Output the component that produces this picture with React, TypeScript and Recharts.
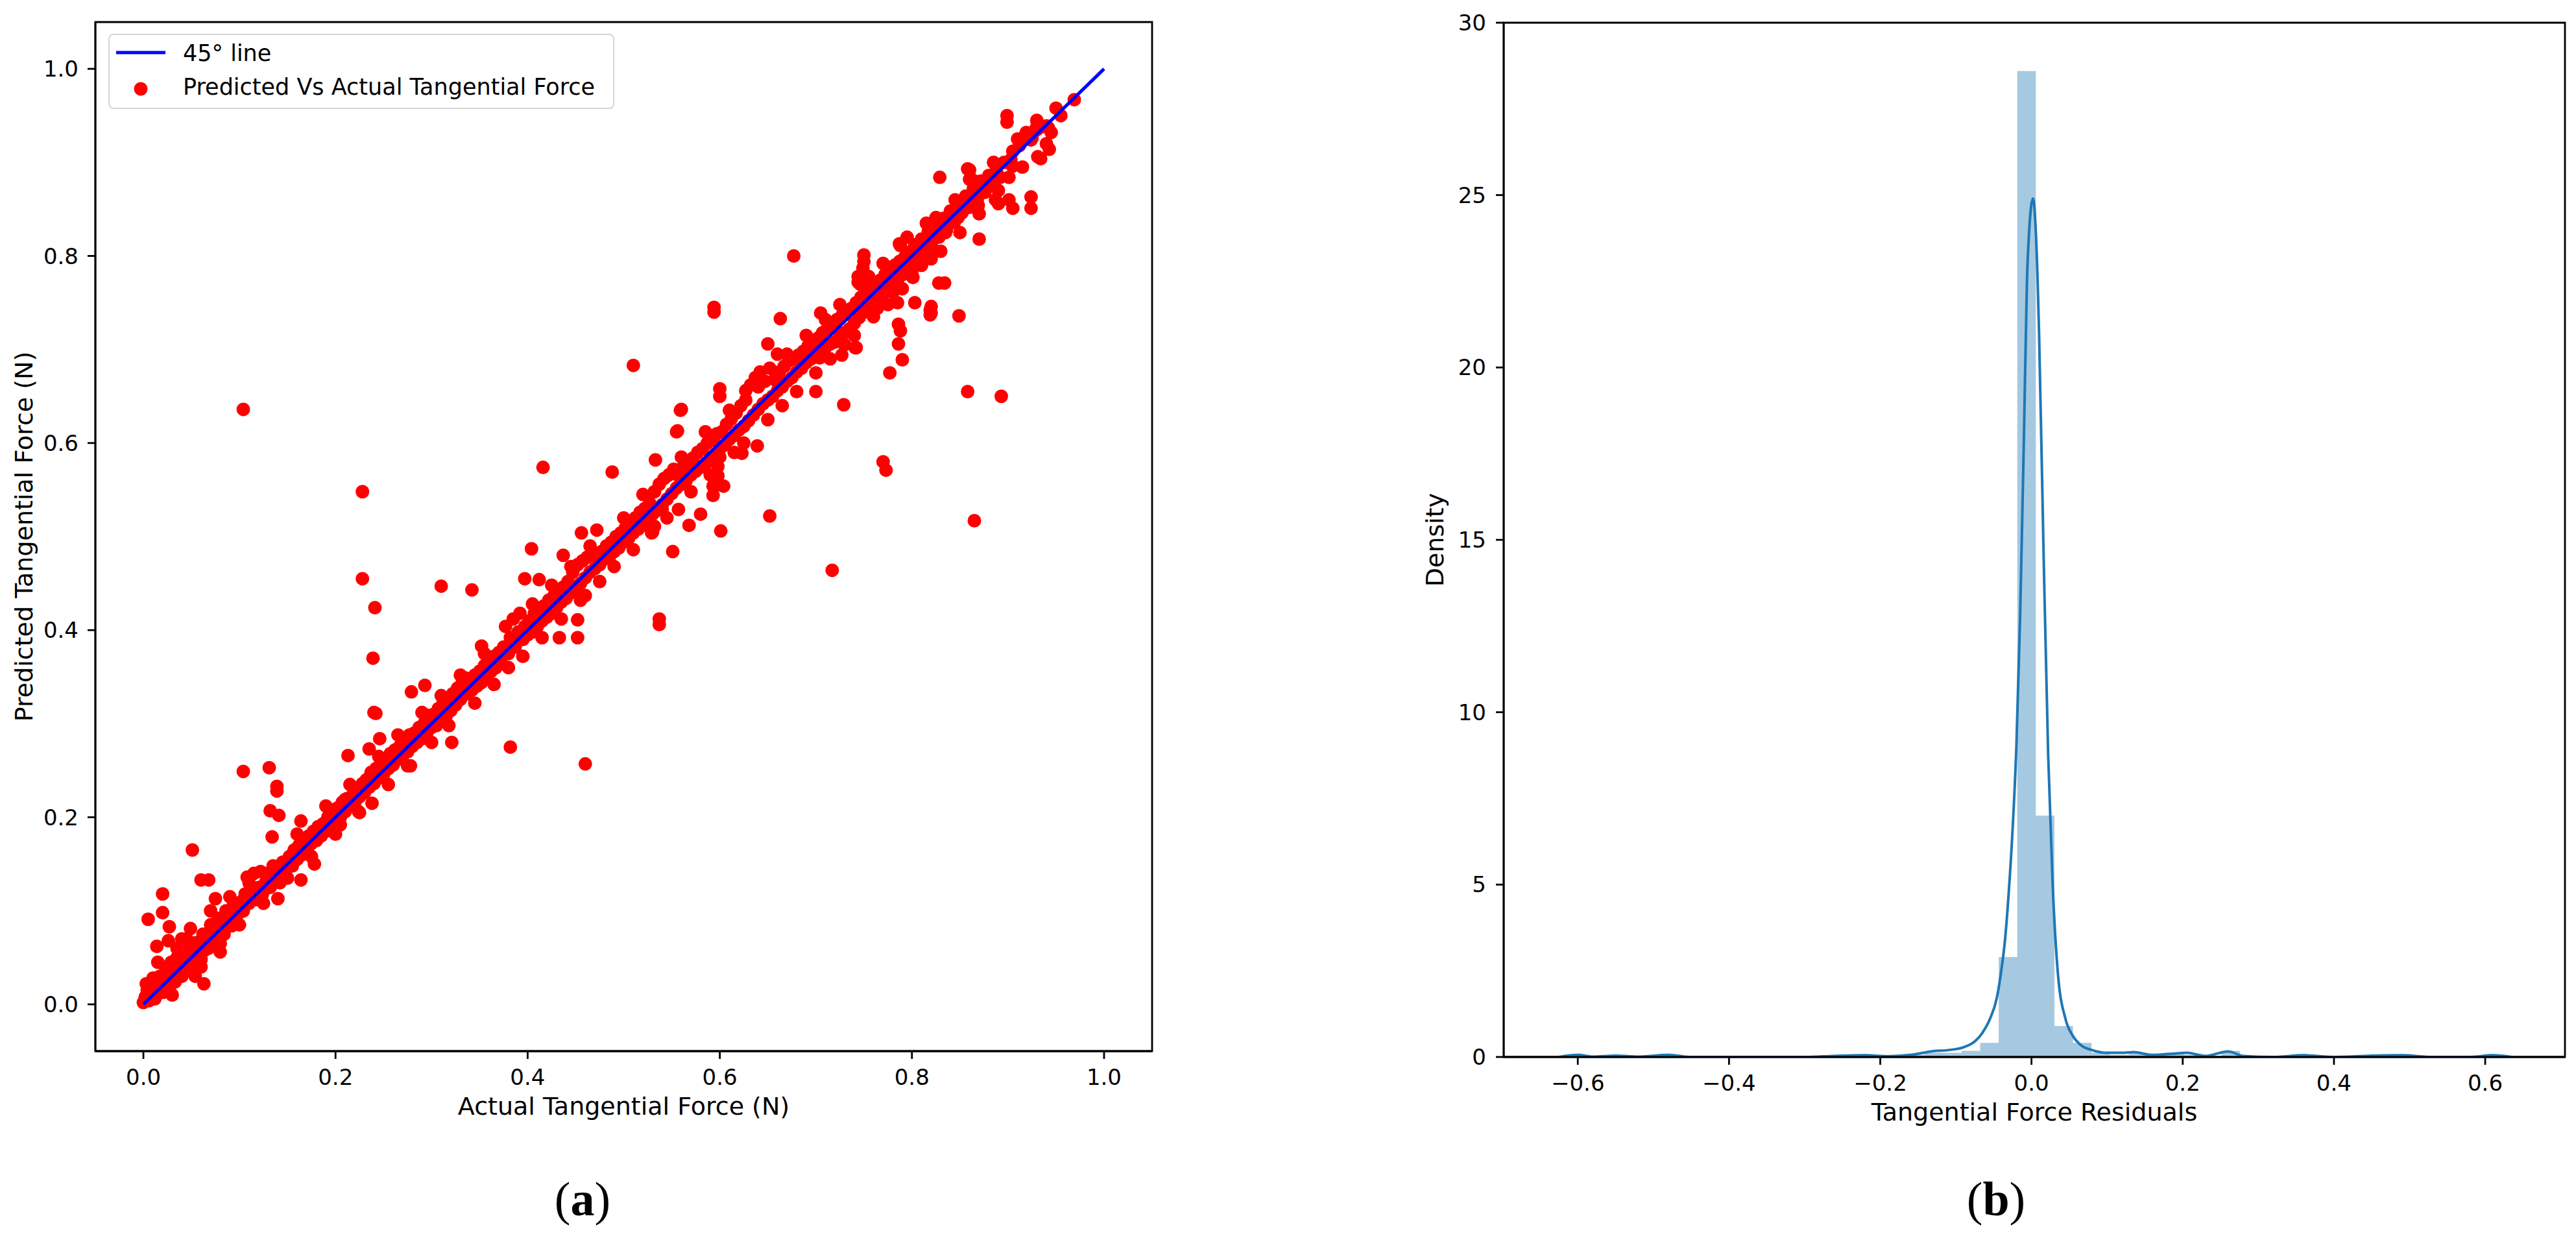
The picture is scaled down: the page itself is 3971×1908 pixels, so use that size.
import React from 'react';
import {
  ScatterChart,
  Scatter,
  ComposedChart,
  Area,
  Line,
  XAxis,
  YAxis,
  Label,
  ReferenceArea,
} from 'recharts';

const FONT = '"DejaVu Sans", Verdana, sans-serif';
const CAPTION_FONT = '"Liberation Serif", "DejaVu Serif", serif';

// ---------- Panel (a) data ----------
const scatterTicks = [0, 0.2, 0.4, 0.6, 0.8, 1.0];
const diagonalLine = [
  { x: 0, y: 0 },
  { x: 1, y: 1 },
];

// [actual, predicted] points lying in the dense band along the 45° line
const bandPoints: [number, number][] = [
  [0, 0.002], [0.002, 0.008], [0.004, 0.015], [0.003, 0.022], [0.006, 0.004], [0.008, 0.012], [0.01, 0.018], [0.01, 0.028],
  [0.012, 0.006], [0.014, 0.02], [0.015, 0.011], [0.017, 0.03], [0.018, 0.016], [0.02, 0.024], [0.021, 0.013], [0.023, 0.04],
  [0.024, 0.02], [0.026, 0.03], [0.027, 0.018], [0.029, 0.045], [0.03, 0.026], [0.032, 0.036], [0.033, 0.024], [0.035, 0.05],
  [0.036, 0.032], [0.038, 0.04], [0.04, 0.03], [0.041, 0.055], [0.043, 0.038], [0.045, 0.046], [0.046, 0.036], [0.048, 0.06],
  [0.05, 0.045], [0.052, 0.052], [0.053, 0.04], [0.055, 0.066], [0.057, 0.052], [0.059, 0.06], [0.06, 0.048], [0.062, 0.075],
  [0.064, 0.058], [0.066, 0.068], [0.068, 0.06], [0.07, 0.085], [0.072, 0.068], [0.074, 0.076], [0.076, 0.066], [0.078, 0.092],
  [0.08, 0.078], [0.082, 0.086], [0.084, 0.075], [0.086, 0.1], [0.088, 0.088], [0.09, 0.095], [0.092, 0.084], [0.094, 0.108],
  [0.096, 0.096], [0.098, 0.104],
  [0.1, 0.098], [0.102, 0.11], [0.104, 0.1], [0.106, 0.118], [0.108, 0.136], [0.11, 0.108], [0.112, 0.12], [0.115, 0.14],
  [0.117, 0.112], [0.12, 0.125], [0.122, 0.142], [0.124, 0.118], [0.127, 0.13], [0.13, 0.14], [0.132, 0.125], [0.135, 0.148],
  [0.137, 0.133], [0.14, 0.14], [0.142, 0.13], [0.145, 0.152], [0.147, 0.14], [0.15, 0.148], [0.152, 0.158], [0.155, 0.148],
  [0.157, 0.165], [0.16, 0.155], [0.162, 0.17], [0.165, 0.16], [0.167, 0.175], [0.17, 0.165], [0.172, 0.18], [0.175, 0.172],
  [0.177, 0.185], [0.18, 0.175], [0.182, 0.19], [0.185, 0.18], [0.187, 0.193], [0.19, 0.185], [0.192, 0.2], [0.195, 0.19],
  [0.197, 0.205], [0.2, 0.196],
  [0.202, 0.21], [0.205, 0.2], [0.207, 0.216], [0.21, 0.206], [0.212, 0.22], [0.215, 0.212], [0.218, 0.224], [0.22, 0.215],
  [0.222, 0.23], [0.225, 0.222], [0.228, 0.236], [0.23, 0.226], [0.232, 0.24], [0.235, 0.232], [0.237, 0.248], [0.24, 0.236],
  [0.242, 0.252], [0.245, 0.242], [0.247, 0.256], [0.25, 0.246], [0.252, 0.262], [0.255, 0.252], [0.257, 0.268], [0.26, 0.256],
  [0.262, 0.272], [0.265, 0.262], [0.267, 0.276], [0.27, 0.266], [0.272, 0.282], [0.275, 0.27], [0.277, 0.288], [0.28, 0.276],
  [0.282, 0.29], [0.285, 0.28], [0.287, 0.296], [0.29, 0.284], [0.292, 0.3], [0.295, 0.29], [0.297, 0.306], [0.3, 0.296],
  [0.302, 0.31], [0.305, 0.298], [0.307, 0.316], [0.31, 0.304], [0.312, 0.322], [0.315, 0.308], [0.317, 0.326], [0.32, 0.314],
  [0.322, 0.332], [0.325, 0.32], [0.327, 0.338], [0.33, 0.326], [0.332, 0.344], [0.335, 0.349], [0.337, 0.332], [0.34, 0.346],
  [0.342, 0.336], [0.345, 0.352], [0.347, 0.34], [0.35, 0.356], [0.352, 0.344], [0.355, 0.362], [0.357, 0.352], [0.36, 0.368],
  [0.362, 0.356], [0.365, 0.372], [0.367, 0.36], [0.37, 0.376], [0.372, 0.366], [0.375, 0.382], [0.377, 0.404], [0.38, 0.375],
  [0.382, 0.392], [0.385, 0.412], [0.387, 0.382], [0.39, 0.398], [0.392, 0.418], [0.395, 0.39], [0.397, 0.404], [0.4, 0.395],
  [0.402, 0.41], [0.405, 0.398], [0.407, 0.418], [0.41, 0.404], [0.412, 0.422], [0.415, 0.41], [0.417, 0.426], [0.42, 0.414],
  [0.422, 0.432], [0.425, 0.418], [0.427, 0.436], [0.43, 0.424], [0.432, 0.44], [0.435, 0.43], [0.437, 0.446], [0.44, 0.434],
  [0.442, 0.452], [0.445, 0.44], [0.447, 0.462], [0.45, 0.444], [0.452, 0.47], [0.455, 0.45], [0.457, 0.474], [0.46, 0.456],
  [0.462, 0.478], [0.465, 0.462], [0.467, 0.48], [0.47, 0.466], [0.472, 0.482], [0.475, 0.47], [0.477, 0.484], [0.48, 0.476],
  [0.482, 0.49], [0.485, 0.478], [0.487, 0.494], [0.49, 0.484], [0.492, 0.5], [0.495, 0.488], [0.497, 0.504], [0.5, 0.494],
  [0.502, 0.51], [0.505, 0.498], [0.507, 0.516], [0.51, 0.504], [0.512, 0.52], [0.515, 0.508], [0.517, 0.526], [0.52, 0.512],
  [0.522, 0.53], [0.525, 0.518], [0.527, 0.536], [0.53, 0.524], [0.532, 0.548], [0.535, 0.528], [0.537, 0.556], [0.54, 0.534],
  [0.542, 0.562], [0.545, 0.54], [0.547, 0.566], [0.55, 0.546], [0.552, 0.572], [0.555, 0.552], [0.557, 0.565], [0.56, 0.556],
  [0.562, 0.575], [0.565, 0.56], [0.567, 0.58], [0.57, 0.566], [0.572, 0.584], [0.575, 0.57], [0.577, 0.59], [0.58, 0.574],
  [0.582, 0.594], [0.585, 0.578], [0.587, 0.6], [0.59, 0.584], [0.592, 0.604], [0.595, 0.588], [0.597, 0.61], [0.6, 0.594],
  [0.602, 0.612], [0.605, 0.598], [0.607, 0.62], [0.61, 0.604], [0.612, 0.626], [0.615, 0.608], [0.617, 0.632], [0.62, 0.614],
  [0.622, 0.64], [0.625, 0.618], [0.627, 0.646], [0.63, 0.624], [0.632, 0.662], [0.635, 0.63], [0.637, 0.67], [0.64, 0.636],
  [0.642, 0.676], [0.645, 0.642], [0.647, 0.666], [0.65, 0.646], [0.652, 0.68], [0.655, 0.65], [0.657, 0.668], [0.66, 0.656],
  [0.662, 0.676], [0.665, 0.66], [0.667, 0.682], [0.67, 0.666], [0.672, 0.688], [0.675, 0.67], [0.677, 0.69], [0.68, 0.676],
  [0.682, 0.694], [0.685, 0.68], [0.687, 0.698], [0.69, 0.686], [0.692, 0.704], [0.695, 0.69], [0.697, 0.706], [0.7, 0.696],
  [0.702, 0.712], [0.705, 0.698], [0.707, 0.718], [0.71, 0.702], [0.712, 0.722], [0.715, 0.706], [0.717, 0.728], [0.72, 0.708],
  [0.722, 0.732], [0.725, 0.714], [0.727, 0.736], [0.73, 0.718], [0.732, 0.74], [0.735, 0.722], [0.737, 0.744], [0.74, 0.728],
  [0.742, 0.75], [0.745, 0.734], [0.747, 0.756], [0.75, 0.74], [0.752, 0.76], [0.755, 0.744], [0.757, 0.766], [0.76, 0.75],
  [0.762, 0.77], [0.765, 0.754], [0.767, 0.774], [0.77, 0.76], [0.772, 0.78], [0.775, 0.764], [0.777, 0.784], [0.78, 0.77],
  [0.782, 0.79], [0.785, 0.774], [0.787, 0.794], [0.79, 0.78], [0.792, 0.798], [0.795, 0.786], [0.797, 0.804], [0.8, 0.79],
  [0.803, 0.812], [0.806, 0.798], [0.81, 0.818], [0.813, 0.806], [0.817, 0.826], [0.82, 0.812], [0.824, 0.832], [0.828, 0.82],
  [0.832, 0.84], [0.836, 0.828], [0.84, 0.848], [0.844, 0.836], [0.848, 0.856], [0.852, 0.846], [0.856, 0.864], [0.86, 0.852],
  [0.864, 0.872], [0.868, 0.86], [0.872, 0.88], [0.876, 0.868], [0.88, 0.886], [0.884, 0.876], [0.888, 0.892], [0.892, 0.884],
  [0.896, 0.9], [0.905, 0.912], [0.912, 0.918], [0.925, 0.926], [0.935, 0.938],
];

// [actual, predicted] points along the ragged edges of the band
const bandEdgePoints: [number, number][] = [
  [0.03, 0.01], [0.045, 0.07], [0.06, 0.04], [0.07, 0.1], [0.08, 0.065], [0.09, 0.115], [0.1, 0.085],
  [0.11, 0.13], [0.125, 0.108], [0.15, 0.135], [0.16, 0.182], [0.175, 0.158], [0.19, 0.212], [0.2, 0.182],
  [0.215, 0.235], [0.225, 0.205], [0.245, 0.265], [0.255, 0.235], [0.265, 0.288], [0.275, 0.255], [0.29, 0.312],
  [0.3, 0.28], [0.31, 0.33], [0.318, 0.298], [0.33, 0.352], [0.345, 0.322], [0.355, 0.375], [0.365, 0.342],
  [0.38, 0.36], [0.395, 0.372], [0.405, 0.428], [0.415, 0.392], [0.425, 0.448], [0.435, 0.412], [0.445, 0.468],
  [0.455, 0.432], [0.465, 0.49], [0.475, 0.452], [0.49, 0.468], [0.5, 0.52], [0.51, 0.486], [0.52, 0.545],
  [0.53, 0.505], [0.545, 0.52], [0.56, 0.585], [0.57, 0.548], [0.585, 0.612], [0.59, 0.566], [0.61, 0.635],
  [0.615, 0.59], [0.625, 0.6], [0.64, 0.66], [0.65, 0.625], [0.665, 0.64], [0.67, 0.695], [0.68, 0.655],
  [0.69, 0.715], [0.7, 0.675], [0.71, 0.732], [0.715, 0.69], [0.725, 0.748], [0.73, 0.705], [0.74, 0.715],
  [0.755, 0.778], [0.76, 0.735], [0.77, 0.792], [0.775, 0.748], [0.79, 0.765], [0.795, 0.82], [0.81, 0.79],
  [0.815, 0.835], [0.83, 0.805], [0.845, 0.86], [0.85, 0.825], [0.865, 0.88], [0.87, 0.845], [0.885, 0.9],
  [0.89, 0.87], [0.91, 0.925], [0.915, 0.895], [0.93, 0.945], [0.94, 0.92], [0.955, 0.95],
];

// [actual, predicted] points scattered away from the band
const outlierPoints: [number, number][] = [
  [0.969, 0.967], [0.95, 0.958], [0.899, 0.95], [0.899, 0.943], [0.919, 0.932], [0.929, 0.936], [0.94, 0.939], [0.945, 0.932],
  [0.943, 0.914], [0.931, 0.906], [0.903, 0.903], [0.905, 0.896], [0.858, 0.893], [0.861, 0.883], [0.829, 0.884], [0.887, 0.86],
  [0.901, 0.86], [0.905, 0.851], [0.924, 0.863], [0.924, 0.851], [0.87, 0.818], [0.787, 0.813], [0.677, 0.8], [0.828, 0.771],
  [0.834, 0.771], [0.803, 0.75], [0.82, 0.746], [0.82, 0.739], [0.849, 0.736], [0.786, 0.727], [0.788, 0.72], [0.786, 0.706],
  [0.79, 0.689], [0.777, 0.675], [0.858, 0.655], [0.893, 0.65], [0.594, 0.745], [0.594, 0.74], [0.663, 0.733], [0.705, 0.739],
  [0.727, 0.694], [0.729, 0.641], [0.7, 0.655], [0.65, 0.706], [0.66, 0.695], [0.51, 0.683], [0.104, 0.636], [0.416, 0.574],
  [0.488, 0.569], [0.228, 0.548], [0.533, 0.582], [0.56, 0.636], [0.556, 0.613], [0.77, 0.58], [0.773, 0.571], [0.865, 0.517],
  [0.652, 0.522], [0.601, 0.506], [0.717, 0.464], [0.537, 0.412], [0.537, 0.406], [0.551, 0.484], [0.568, 0.512], [0.404, 0.487],
  [0.397, 0.455], [0.412, 0.454], [0.31, 0.447], [0.342, 0.443], [0.228, 0.455], [0.241, 0.424], [0.239, 0.37], [0.24, 0.312],
  [0.382, 0.275], [0.46, 0.257], [0.293, 0.341], [0.279, 0.334], [0.213, 0.266], [0.104, 0.249], [0.131, 0.253], [0.139, 0.233],
  [0.139, 0.228], [0.132, 0.207], [0.141, 0.202], [0.164, 0.196], [0.134, 0.179], [0.051, 0.165], [0.06, 0.133], [0.068, 0.133],
  [0.02, 0.118], [0.075, 0.113], [0.005, 0.091], [0.02, 0.098], [0.027, 0.083], [0.049, 0.081], [0.08, 0.056], [0.054, 0.03],
  [0.063, 0.022], [0.14, 0.113], [0.164, 0.133], [0.178, 0.15], [0.352, 0.383], [0.321, 0.28], [0.278, 0.255], [0.452, 0.411],
  [0.433, 0.392], [0.452, 0.392], [0.456, 0.504], [0.472, 0.507], [0.437, 0.48], [0.46, 0.437], [0.529, 0.504], [0.532, 0.511],
  [0.54, 0.529], [0.58, 0.524], [0.559, 0.635], [0.555, 0.612], [0.6, 0.658], [0.6, 0.65], [0.627, 0.656], [0.639, 0.597],
  [0.623, 0.589], [0.742, 0.702], [0.75, 0.801], [0.75, 0.794], [0.749, 0.787], [0.744, 0.778], [0.744, 0.772], [0.82, 0.797],
  [0.82, 0.803], [0.8, 0.783], [0.801, 0.777], [0.557, 0.529], [0.593, 0.544], [0.593, 0.554], [0.604, 0.554], [0.78, 0.761],
  [0.785, 0.75], [0.764, 0.744], [0.86, 0.892], [0.86, 0.882], [0.874, 0.872], [0.883, 0.876], [0.89, 0.856], [0.855, 0.857],
  [0.869, 0.854], [0.848, 0.841], [0.825, 0.841], [0.837, 0.841], [0.835, 0.825], [0.788, 0.811], [0.801, 0.806], [0.813, 0.817],
  [0.82, 0.811], [0.799, 0.785], [0.746, 0.77], [0.779, 0.766], [0.819, 0.742], [0.819, 0.737], [0.741, 0.702], [0.704, 0.691],
  [0.918, 0.929], [0.93, 0.935], [0.942, 0.937], [0.934, 0.904], [0.924, 0.924], [0.901, 0.884], [0.904, 0.897], [0.014, 0.062],
  [0.026, 0.068], [0.015, 0.045], [0.035, 0.06], [0.04, 0.07], [0.205, 0.192], [0.21, 0.219], [0.224, 0.206], [0.238, 0.215],
  [0.246, 0.284], [0.235, 0.273], [0.242, 0.311], [0.296, 0.309], [0.598, 0.565], [0.598, 0.575], [0.6, 0.585], [0.601, 0.555],
  [0.6, 0.596],
];

// ---------- Panel (b) data ----------
const residualTicks = [-0.6, -0.4, -0.2, 0, 0.2, 0.4, 0.6];
const densityTicks = [0, 5, 10, 15, 20, 25, 30];
const binStart = -0.608;
const binWidth = 0.02455;
const binDensity = [
  0.06, 0, 0.06, 0, 0, 0.06, 0, 0, 0, 0,
  0, 0, 0, 0, 0.06, 0, 0.06, 0, 0.06, 0.12,
  0.12, 0.18, 0.41, 2.9, 28.6, 7.0, 0.9, 0.41, 0.12, 0.06,
  0.12, 0.06, 0.12, 0.06, 0, 0.18, 0, 0, 0, 0.06,
  0, 0, 0, 0.06, 0.06, 0, 0, 0, 0, 0.06,
];
const kdeX = [
  -0.625, -0.6, -0.58, -0.55, -0.52, -0.48, -0.45, -0.4, -0.3, -0.26, -0.22, -0.19, -0.16, -0.13, -0.11,
  -0.09, -0.075, -0.065, -0.055, -0.046, -0.04, -0.035, -0.03, -0.025, -0.02, -0.015, -0.01, -0.006, -0.003,
  0.002, 0.006, 0.01, 0.016, 0.022, 0.028, 0.035, 0.045, 0.055, 0.065, 0.08, 0.1, 0.12, 0.135, 0.16, 0.19,
  0.205, 0.23, 0.26, 0.28, 0.32, 0.36, 0.4, 0.45, 0.49, 0.53, 0.58, 0.61, 0.635,
];
const kdeY = [
  0.0, 0.06, 0.01, 0.04, 0.01, 0.06, 0.0, 0.0, 0.0, 0.03, 0.05, 0.02, 0.06, 0.17, 0.2,
  0.28, 0.45, 0.7, 1.1, 1.7, 2.5, 3.4, 4.8, 6.6, 9.0, 12.8, 18.0, 22.5, 24.0,
  24.9, 23.8, 21.0, 14.6, 8.8, 5.0, 2.4, 1.1, 0.6, 0.35, 0.2, 0.12, 0.12, 0.14, 0.06, 0.1,
  0.12, 0.03, 0.16, 0.03, 0.0, 0.05, 0.0, 0.04, 0.05, 0.0, 0.0, 0.05, 0.0,
];

// ---------- derived tables ----------
const scatterData = [...bandPoints, ...bandEdgePoints, ...outlierPoints].map(([x, y]) => ({ x, y }));

const histRows = binDensity
  .map((d, k) => ({ x: binStart + k * binWidth, hist: d }))
  .concat([{ x: binStart + binDensity.length * binWidth, hist: 0 }]);
const kdeRows = kdeX.map((x, i) => ({ x, kde: kdeY[i] }));
const residualData = [...histRows, ...kdeRows].sort((a, b) => a.x - b.x);

const fmtOne = (v: number) => (Math.abs(v) < 1e-9 ? '0.0' : (v < 0 ? '\u2212' : '') + Math.abs(v).toFixed(1));

const tickStyle = { fontSize: 34, fill: '#000', fontFamily: FONT };
const lineStyle = { stroke: '#000', strokeWidth: 2.8 };

const RedDot = (props: any) => {
  const { cx, cy } = props;
  if (cx == null || cy == null) return <g />;
  return <circle cx={cx} cy={cy} r={10.5} fill="#ff0000" />;
};

const NoDot = () => <g />;

const xTitle = (text: string, dy: number) => (props: any) => {
  const vb = props.viewBox;
  if (!vb) return null;
  return (
    <text x={vb.x + vb.width / 2} y={vb.y + dy} textAnchor="middle" fontSize={38} fontFamily={FONT} fill="#000">
      {text}
    </text>
  );
};

const yTitle = (text: string, bx: number) => (props: any) => {
  const vb = props.viewBox;
  if (!vb) return null;
  const x = vb.x + bx;
  const y = vb.y + vb.height / 2;
  return (
    <text x={x} y={y} transform={`rotate(-90 ${x} ${y})`} textAnchor="middle" fontSize={38} fontFamily={FONT} fill="#000">
      {text}
    </text>
  );
};

const PanelA = () => (
  <ScatterChart width={1800} height={1790} margin={{ top: 34, right: 24, bottom: 70, left: 0 }}>
    <XAxis
      type="number"
      dataKey="x"
      domain={[-0.05, 1.05]}
      ticks={scatterTicks}
      interval={0}
      allowDataOverflow
      tickFormatter={fmtOne}
      height={100}
      tickSize={12}
      tickMargin={16}
      tick={tickStyle}
      tickLine={lineStyle}
      axisLine={lineStyle}
    >
      <Label content={xTitle('Actual Tangential Force (N)', 98)} />
    </XAxis>
    <YAxis
      type="number"
      dataKey="y"
      domain={[-0.05, 1.05]}
      ticks={scatterTicks}
      interval={0}
      allowDataOverflow
      tickFormatter={fmtOne}
      width={147}
      tickSize={12}
      tickMargin={14}
      tick={tickStyle}
      tickLine={lineStyle}
      axisLine={lineStyle}
    >
      <Label content={yTitle('Predicted Tangential Force (N)', 50)} />
    </YAxis>
    <ReferenceArea x1={-0.05} x2={1.05} y1={-0.05} y2={1.05} fill="none" stroke="#000" strokeWidth={2.8} ifOverflow="visible" />
    <Scatter name="Predicted Vs Actual Tangential Force" data={scatterData} shape={RedDot} isAnimationActive={false} />
    <Scatter
      name="45° line"
      data={diagonalLine}
      line={{ stroke: '#0000ff', strokeWidth: 5 }}
      shape={NoDot}
      isAnimationActive={false}
    />
  </ScatterChart>
);

const PanelB = () => (
  <ComposedChart width={1821} height={1790} data={residualData} margin={{ top: 35, right: 17, bottom: 61, left: 0 }}>
    <XAxis
      type="number"
      dataKey="x"
      domain={[-0.698, 0.7055]}
      ticks={residualTicks}
      interval={0}
      allowDataOverflow
      tickFormatter={fmtOne}
      height={100}
      tickSize={12}
      tickMargin={16}
      tick={tickStyle}
      tickLine={lineStyle}
      axisLine={lineStyle}
    >
      <Label content={xTitle('Tangential Force Residuals', 98)} />
    </XAxis>
    <YAxis
      type="number"
      domain={[0, 30]}
      ticks={densityTicks}
      interval={0}
      allowDataOverflow
      width={168}
      tickSize={12}
      tickMargin={15}
      tick={tickStyle}
      tickLine={lineStyle}
      axisLine={lineStyle}
    >
      <Label content={yTitle('Density', 75)} />
    </YAxis>
    <ReferenceArea x1={-0.698} x2={0.7055} y1={0} y2={30} fill="none" stroke="#000" strokeWidth={2.8} ifOverflow="visible" />
    <Area
      type="stepAfter"
      dataKey="hist"
      fill="#1f77b4"
      fillOpacity={0.4}
      stroke="none"
      connectNulls
      isAnimationActive={false}
    />
    <Line type="monotone" dataKey="kde" stroke="#1f77b4" strokeWidth={4} dot={false} connectNulls isAnimationActive={false} />
  </ComposedChart>
);

const LegendA = () => (
  <div
    style={{
      position: 'absolute',
      left: 167,
      top: 52,
      width: 780,
      height: 116,
      border: '2.5px solid #d4d4d4',
      borderRadius: 8,
      background: 'rgba(255,255,255,0.8)',
      boxSizing: 'border-box',
    }}
  >
    <svg width={776} height={112} style={{ position: 'absolute', left: 0, top: 0 }}>
      <line x1={10} y1={27} x2={86} y2={27} stroke="#0000ff" strokeWidth={5} />
      <text x={113} y={40} fontSize={35} fontFamily={FONT} fill="#000">
        45° line
      </text>
      <circle cx={48} cy={83} r={10.5} fill="#ff0000" />
      <text x={113} y={92} fontSize={35} fontFamily={FONT} fill="#000">
        Predicted Vs Actual Tangential Force
      </text>
    </svg>
  </div>
);

const Captions = () => (
  <svg width={3971} height={1908} style={{ position: 'absolute', left: 0, top: 0, pointerEvents: 'none' }}>
    <text x={898} y={1873} textAnchor="middle" fontSize={74} fontFamily={CAPTION_FONT} fill="#000">
      (<tspan fontWeight="bold">a</tspan>)
    </text>
    <text x={3077} y={1873} textAnchor="middle" fontSize={74} fontFamily={CAPTION_FONT} fill="#000">
      (<tspan fontWeight="bold">b</tspan>)
    </text>
  </svg>
);

export default function App() {
  return (
    <div
      style={{
        position: 'absolute',
        left: 0,
        top: 0,
        width: 3971,
        height: 1908,
        background: '#ffffff',
        overflow: 'hidden',
        fontFamily: FONT,
      }}
    >
      <div style={{ position: 'absolute', left: 0, top: 0 }}>
        <PanelA />
      </div>
      <LegendA />
      <div style={{ position: 'absolute', left: 2150, top: 0 }}>
        <PanelB />
      </div>
      <Captions />
    </div>
  );
}
